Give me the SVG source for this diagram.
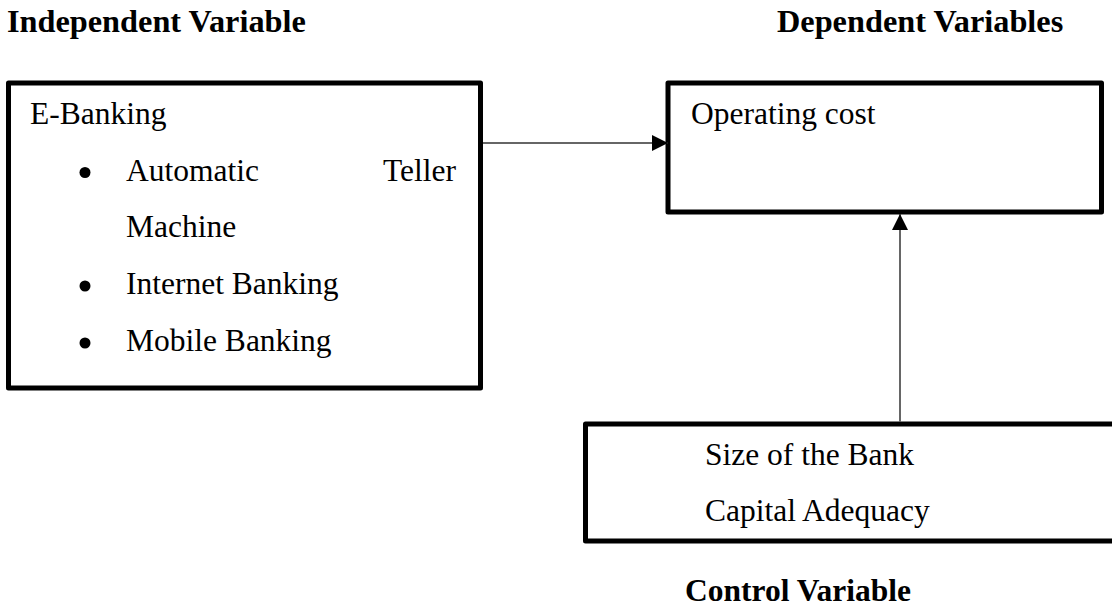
<svg xmlns="http://www.w3.org/2000/svg" width="1112" height="607" viewBox="0 0 1112 607">
  <style>
    .t { font-family: "Liberation Serif", "Times New Roman", serif; font-size: 31.5px; fill: #000; }
    .h { font-family: "Liberation Serif", "Times New Roman", serif; font-size: 32.3px; font-weight: bold; fill: #000; }
    .box { fill: #fff; stroke: #000; stroke-width: 5; stroke-linejoin: round; }
    .conn { stroke: #333; stroke-width: 1.5; fill: none; }
  </style>
  <defs>
    <marker id="arrow" markerUnits="userSpaceOnUse" markerWidth="16" markerHeight="16" refX="16" refY="8" orient="auto">
      <path d="M0,0 L16,8 L0,16 Z" fill="#000"/>
    </marker>
  </defs>
  <rect width="1112" height="607" fill="#fff"/>

  <g id="headings">
    <text class="h" x="7" y="32">Independent Variable</text>
    <text class="h" x="777" y="32">Dependent Variables</text>
    <text class="h" x="685" y="601" style="font-size:31.5px">Control Variable</text>
  </g>

  <g id="independent">
    <rect class="box" x="8.5" y="83" width="472" height="305"/>
    <text class="t" x="30" y="124">E-Banking</text>
    <circle cx="85" cy="172.5" r="5.5"/>
    <text class="t" x="126" y="181">Automatic</text>
    <text class="t" x="383" y="181">Teller</text>
    <text class="t" x="126" y="237">Machine</text>
    <circle cx="85" cy="286" r="5.5"/>
    <text class="t" x="126" y="294">Internet Banking</text>
    <circle cx="85" cy="343" r="5.5"/>
    <text class="t" x="126" y="351">Mobile Banking</text>
  </g>

  <g id="dependent">
    <rect class="box" x="668" y="83" width="433.5" height="129"/>
    <text class="t" x="691" y="124">Operating cost</text>
  </g>

  <g id="control">
    <rect class="box" x="585.5" y="424" width="600" height="117"/>
    <text class="t" x="705" y="465">Size of the Bank</text>
    <text class="t" x="705" y="521">Capital Adequacy</text>
  </g>

  <g id="connectors">
    <line class="conn" x1="483" y1="143" x2="668" y2="143" marker-end="url(#arrow)"/>
    <line class="conn" x1="900" y1="421.5" x2="900" y2="214" marker-end="url(#arrow)"/>
  </g>
</svg>
